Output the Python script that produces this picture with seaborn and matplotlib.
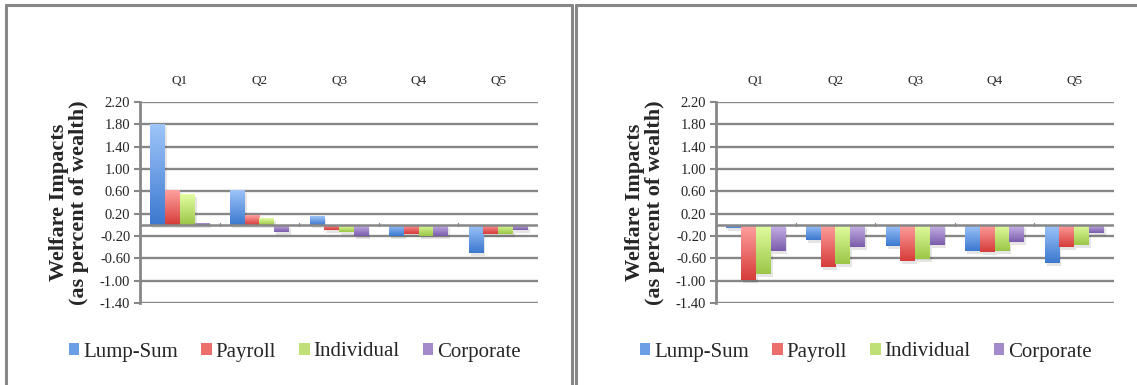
import numpy as np
import pandas as pd
import matplotlib
matplotlib.use("Agg")
import matplotlib.pyplot as plt
import seaborn as sns
from matplotlib.colors import LinearSegmentedColormap
from matplotlib.patches import Rectangle, Patch
from matplotlib.lines import Line2D
import matplotlib.transforms as mtransforms

# ---- data -------------------------------------------------------------
quintiles = ["Q1", "Q2", "Q3", "Q4", "Q5"]
taxes = ["Lump-Sum", "Payroll", "Individual", "Corporate"]

left_lump = [1.81, 0.63, 0.16, -0.20, -0.51]
left_payroll = [0.62, 0.17, -0.10, -0.17, -0.17]
left_individual = [0.55, 0.12, -0.12, -0.20, -0.17]
left_corporate = [0.04, -0.13, -0.20, -0.20, -0.10]

right_lump = [-0.05, -0.28, -0.38, -0.47, -0.69]
right_payroll = [-0.98, -0.76, -0.65, -0.49, -0.40]
right_individual = [-0.88, -0.70, -0.62, -0.47, -0.36]
right_corporate = [-0.47, -0.40, -0.36, -0.30, -0.15]

y_ticks = [-1.40, -1.00, -0.60, -0.20, 0.20, 0.60, 1.00, 1.40, 1.80, 2.20]
y_label = "Welfare Impacts\n(as percent of wealth)"

# light (top) / dark (bottom) shades of each series
light = ["#a0c6fa", "#ffa19f", "#e3fea2", "#cbb6ea"]
dark = ["#3b78cf", "#d53c3a", "#9bc647", "#7a5cab"]
mid = ["#6a9fe6", "#ec6e6b", "#bfe077", "#a48acb"]

GRID = "#878787"
W, H = 1137, 385

sns.set_theme(style="white")
plt.rcParams["font.family"] = ["Liberation Serif", "DejaVu Serif"]


def long_frame(series):
    rows = []
    for name, vals in zip(taxes, series):
        for q, v in zip(quintiles, vals):
            rows.append({"Quintile": q, "Tax": name, "Impact": v})
    return pd.DataFrame(rows)


def draw_panel(ax, df):
    sns.barplot(data=df, x="Quintile", y="Impact", hue="Tax",
                hue_order=taxes, order=quintiles, palette=mid,
                width=0.74, linewidth=0, legend=False, ax=ax, zorder=3)

    shadow_tf = mtransforms.offset_copy(ax.transData, fig=ax.figure,
                                        x=2, y=-3, units="dots")
    for i, cont in enumerate(ax.containers):
        cmap = LinearSegmentedColormap.from_list(taxes[i], [dark[i], light[i]])
        grad = np.linspace(0, 1, 128).reshape(-1, 1)
        for bar in cont.patches:
            x0, y0 = bar.get_x(), bar.get_y()
            w, h = bar.get_width(), bar.get_height()
            lo, hi = min(y0, y0 + h), max(y0, y0 + h)
            ax.add_patch(Rectangle((x0, lo), w, hi - lo, transform=shadow_tf,
                                   facecolor="black", alpha=0.10,
                                   linewidth=0, zorder=2.5))
            im = ax.imshow(grad, extent=[x0, x0 + w, lo, hi], origin="lower",
                           aspect="auto", cmap=cmap, zorder=3,
                           interpolation="bilinear")
            im.set_clip_path(bar)
            bar.set_facecolor("none")

    ax.set_xlim(-0.5, len(quintiles) - 0.5)
    ax.set_ylim(-1.40, 2.20)
    ax.set_yticks(y_ticks)
    ax.set_yticklabels([f"{t:.2f}" for t in y_ticks], fontsize=10.5)
    for t in y_ticks:
        ax.axhline(t, color=GRID, lw=1.7, zorder=1)
    ax.axhline(0, color=GRID, lw=1.8, zorder=4)
    for b in np.arange(0.5, len(quintiles) - 0.5, 1.0):
        ax.plot([b, b], [-0.025, 0.025], color=GRID, lw=1.0, zorder=4)

    ax.xaxis.tick_top()
    ax.tick_params(axis="x", length=0, pad=11, labelsize=9.5)
    ax.tick_params(axis="y", left=True, length=4, width=1.5, color=GRID,
                   pad=3)
    ax.set_xlabel("")
    ax.set_ylabel(y_label, fontsize=16, fontweight="bold", labelpad=8,
                  linespacing=1.0)
    for s in ["top", "right", "bottom"]:
        ax.spines[s].set_visible(False)
    ax.spines["left"].set_color(GRID)
    ax.spines["left"].set_linewidth(2)
    ax.spines["left"].set_zorder(5)


fig = plt.figure(figsize=(W / 100, H / 100), dpi=100)

# panel frames
for x0, x1, right_edge in [(6, 572, True), (576, 1145, False)]:
    fx0, fx1 = x0 / W, x1 / W
    ftop = 1 - 4.5 / H
    fig.add_artist(Line2D([fx0, fx0], [ftop, -0.05], color=GRID, lw=2.2,
                          transform=fig.transFigure))
    fig.add_artist(Line2D([fx0, fx1], [ftop, ftop], color=GRID, lw=2.2,
                          transform=fig.transFigure))
    if right_edge:
        fig.add_artist(Line2D([fx1, fx1], [ftop, -0.05], color=GRID, lw=2.2,
                              transform=fig.transFigure))

ax_l = fig.add_axes([140 / W, 82 / H, 398 / W, 201 / H])
ax_r = fig.add_axes([716 / W, 82 / H, 398 / W, 201 / H])

draw_panel(ax_l, long_frame([left_lump, left_payroll, left_individual,
                             left_corporate]))
draw_panel(ax_r, long_frame([right_lump, right_payroll, right_individual,
                             right_corporate]))

handles = [Patch(facecolor=c, edgecolor="none") for c in mid]
for cx in (295 / W, 866 / W):
    fig.legend(handles, taxes, loc="center", bbox_to_anchor=(cx, 1 - 352 / H),
               ncol=4, frameon=False, fontsize=15, handlelength=0.5,
               handleheight=0.5, handletextpad=0.2, columnspacing=1.1,
               borderaxespad=0)

fig.savefig("out.png", dpi=100, facecolor="white")
